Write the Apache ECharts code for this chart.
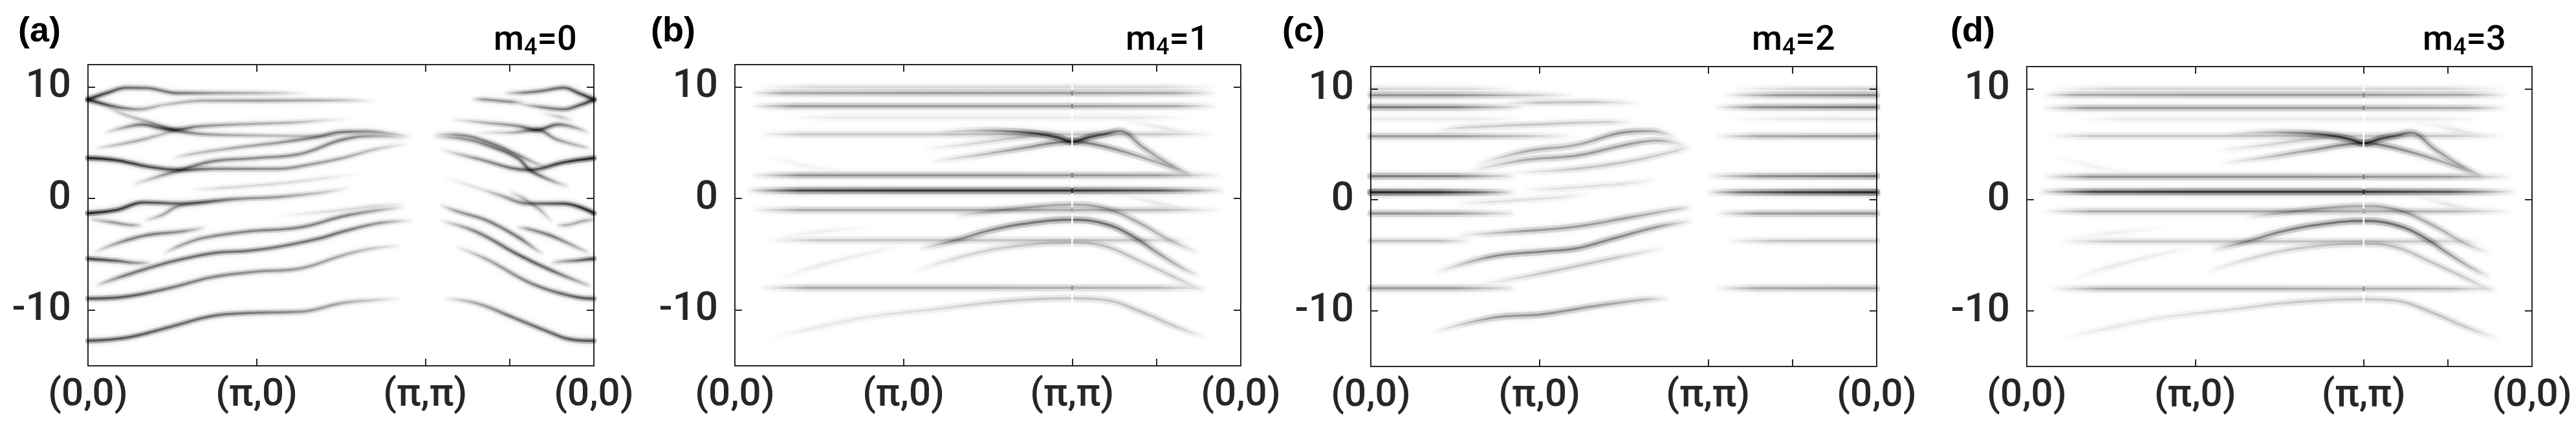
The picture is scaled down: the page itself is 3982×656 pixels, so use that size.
<!DOCTYPE html>
<html><head><meta charset="utf-8">
<script src="https://cdn.jsdelivr.net/npm/echarts@6/dist/echarts.min.js"></script>
<style>html,body{margin:0;padding:0;background:#fff}#c{width:3982px;height:656px}</style>
</head><body><div id="c"></div>
<script>
// ---- axis / label data ----
const xTickValues = [0, 1, 2, 3];
const xTickLabels = ['(0,0)', '(π,0)', '(π,π)', '(0,0)'];
const xInnerTicks = [1, 2, 2.5];
const yTickValues = [-10, 0, 10];
const panelLetters = ['(a)', '(b)', '(c)', '(d)'];
const m4Values = [0, 1, 2, 3];

// ---- bands: each point is [k-path position, energy, intensity] ----
const bandsA = [
  [[0,8.87,0.9],[0.12,9.5,0.7],[0.23,9.93,0.55],[0.35,9.9,0.5],[0.53,9.45,0.5],[0.74,9.45,0.35],[1.0,9.45,0.25],[1.13,9.45,0.15],[1.3,9.43,0]],
  [[0,8.87,0.85],[0.17,8.2,0.55],[0.3,8.0,0.35],[0.45,8.4,0.2],[0.69,8.77,0.3],[1.0,8.77,0.35],[1.3,8.8,0.3],[1.5,8.8,0.2],[1.7,8.75,0]],
  [[0.1,5.9,0],[0.2,6.3,0.25],[0.32,6.63,0.5],[0.42,6.35,0.55],[0.51,6.15,0.7],[0.65,6.45,0.4],[0.9,6.65,0.3],[1.2,6.8,0.25],[1.4,7.0,0.1],[1.55,7.1,0]],
  [[0.1,8.3,0],[0.22,7.5,0.2],[0.35,6.9,0.25],[0.51,6.15,0.5],[0.7,5.75,0.35],[1.0,5.65,0.25],[1.3,5.6,0.2],[1.5,5.6,0]],
  [[0.04,4.5,0],[0.15,4.75,0.2],[0.3,5.2,0.3],[0.45,5.8,0.2],[0.55,6.2,0]],
  [[0,3.63,1.0],[0.17,3.43,0.85],[0.36,2.85,0.7],[0.55,2.56,0.65],[0.74,2.66,0.45],[1.13,2.66,0.4],[1.3,3.0,0.35],[1.51,3.63,0.3],[1.7,4.4,0.2],[1.9,4.9,0]],
  [[0.26,1.2,0],[0.4,1.9,0.25],[0.55,2.56,0.5],[0.74,3.34,0.45],[1.0,3.63,0.4],[1.26,4.0,0.4],[1.51,5.28,0.45],[1.7,5.6,0.3],[1.88,5.4,0]],
  [[0.5,3.6,0],[0.62,4.0,0.2],[0.9,4.6,0.3],[1.13,5.0,0.35],[1.35,5.5,0.45],[1.51,5.96,0.5],[1.65,6.0,0.4],[1.8,5.8,0.2],[1.92,5.5,0]],
  [[0.6,0.8,0],[0.8,0.95,0.12],[1.1,1.3,0.12],[1.4,1.8,0.08],[1.6,2.2,0]],
  [[0,-1.32,1.0],[0.17,-1.03,0.85],[0.33,-0.35,0.7],[0.55,-0.45,0.55],[0.87,-0.06,0.4],[1.13,0.14,0.35],[1.38,0.52,0.2],[1.55,0.95,0]],
  [[0.33,-2.0,0],[0.45,-1.4,0.3],[0.53,-0.7,0.35],[0.7,-0.3,0.25],[0.9,0.1,0]],
  [[0.03,-1.9,0.1],[0.15,-2.15,0.35],[0.26,-2.39,0.3],[0.32,-2.4,0]],
  [[0.04,-4.8,0],[0.12,-4.3,0.2],[0.23,-3.74,0.45],[0.36,-3.26,0.5],[0.55,-2.97,0.4],[0.7,-2.6,0]],
  [[0.45,-4.9,0],[0.55,-4.2,0.3],[0.68,-3.55,0.4],[0.94,-2.97,0.45],[1.26,-2.58,0.45],[1.51,-1.6,0.45],[1.7,-1.1,0.3],[1.88,-0.8,0]],
  [[0.05,-7.8,0],[0.1,-7.5,0.2],[0.23,-6.85,0.5],[0.49,-5.68,0.55],[0.74,-4.9,0.55],[0.94,-4.7,0.55],[1.13,-4.33,0.5],[1.38,-3.55,0.55],[1.51,-2.97,0.5],[1.73,-2.2,0.35],[1.92,-2.0,0]],
  [[0,-5.39,0.8],[0.17,-5.59,0.6],[0.3,-5.78,0.3],[0.37,-5.75,0]],
  [[0,-8.98,0.7],[0.23,-8.79,0.65],[0.49,-8.0,0.5],[0.74,-7.04,0.45],[1.0,-6.56,0.4],[1.26,-6.27,0.35],[1.51,-5.1,0.3],[1.67,-4.52,0.2],[1.86,-4.23,0]],
  [[0,-12.76,0.7],[0.23,-12.47,0.65],[0.49,-11.5,0.6],[0.74,-10.53,0.55],[1.0,-10.24,0.5],[1.26,-10.15,0.4],[1.51,-9.37,0.3],[1.7,-9.1,0.15],[1.86,-8.98,0]],
  [[1.1,-1.6,0],[1.4,-1.2,0.1],[1.7,-0.7,0.12],[1.9,-0.45,0]],
  [[2.11,-8.98,0],[2.3,-9.37,0.3],[2.5,-10.53,0.5],[2.69,-11.7,0.55],[2.88,-12.67,0.65],[3.0,-12.76,0.7]],
  [[2.18,-4.33,0],[2.37,-5.49,0.3],[2.63,-7.62,0.45],[2.88,-8.79,0.6],[3.0,-8.98,0.7]],
  [[2.09,-2.0,0],[2.3,-2.97,0.45],[2.56,-5.1,0.6],[2.75,-6.46,0.55],[2.94,-7.62,0.2],[2.98,-7.8,0]],
  [[2.09,-0.64,0],[2.2,-1.2,0.35],[2.37,-2.0,0.45],[2.56,-3.55,0.5],[2.67,-4.7,0.1],[2.7,-4.9,0]],
  [[2.55,-2.6,0],[2.62,-2.77,0.35],[2.75,-3.36,0.5],[2.92,-4.52,0.2],[2.97,-4.8,0]],
  [[2.75,-5.75,0],[2.79,-5.68,0.2],[2.9,-5.55,0.5],[3.0,-5.39,0.8]],
  [[2.78,-2.4,0],[2.83,-2.39,0.25],[2.94,-2.0,0.3],[3.0,-1.9,0.1]],
  [[2.35,0.7,0],[2.43,0.33,0.15],[2.62,-0.45,0.5],[2.82,-0.45,0.7],[3.0,-1.32,1.0]],
  [[2.5,0.6,0],[2.59,-0.06,0.25],[2.68,-1.0,0.25],[2.75,-2.0,0]],
  [[2.1,1.9,0],[2.3,1.0,0.1],[2.5,0.0,0.1],[2.6,-0.6,0]],
  [[2.09,4.4,0],[2.3,3.6,0.35],[2.62,2.56,0.6],[2.82,3.24,0.8],[3.0,3.63,1.0]],
  [[2.05,5.5,0],[2.2,5.4,0.3],[2.4,4.6,0.45],[2.55,3.6,0.5],[2.62,2.56,0.6],[2.75,1.6,0.3],[2.85,1.1,0]],
  [[2.05,5.75,0],[2.2,5.7,0.35],[2.4,4.9,0.45],[2.55,3.9,0.4],[2.65,3.2,0.2],[2.72,2.8,0]],
  [[2.15,7.1,0],[2.35,6.8,0.25],[2.55,6.5,0.4],[2.66,6.15,0.7],[2.79,6.63,0.5],[2.9,6.3,0.25],[2.97,5.9,0]],
  [[2.3,5.9,0],[2.5,5.9,0.2],[2.66,6.15,0.5],[2.78,5.3,0.35],[2.92,4.7,0.2],[2.98,4.5,0]],
  [[2.47,9.45,0],[2.6,9.5,0.45],[2.69,9.64,0.5],[2.82,9.93,0.55],[2.91,9.45,0.7],[3.0,8.87,0.9]],
  [[2.55,8.5,0],[2.69,8.19,0.4],[2.82,8.0,0.5],[2.92,8.4,0.65],[3.0,8.87,0.85]],
  [[2.28,8.9,0],[2.35,8.87,0.35],[2.5,8.67,0.4],[2.58,8.6,0]],
  [[2.7,7.6,0],[2.8,7.3,0.2],[2.88,7.0,0]]
];

const bandsB = [
  [[0.15,10.0,0],[0.5,10.0,0.12],[2.5,10.0,0.12],[2.85,10.0,0]],
  [[0.1,9.45,0],[0.3,9.45,0.3],[1.0,9.45,0.35],[2.0,9.45,0.35],[2.6,9.45,0.3],[2.85,9.45,0]],
  [[0.1,8.28,0],[0.35,8.28,0.35],[1.0,8.28,0.35],[2.0,8.28,0.35],[2.6,8.28,0.3],[2.85,8.28,0]],
  [[0.3,7.27,0],[0.6,7.27,0.07],[2.4,7.27,0.07],[2.7,7.27,0]],
  [[0.15,5.76,0],[0.4,5.76,0.18],[1.3,5.76,0.18],[2.5,5.76,0.18],[2.85,5.76,0]],
  [[0.1,2.08,0],[0.4,2.08,0.4],[1.5,2.08,0.4],[2.5,2.08,0.35],[2.88,2.08,0]],
  [[0.08,0.72,0],[0.4,0.72,0.75],[1.0,0.72,0.85],[2.0,0.72,0.85],[2.5,0.72,0.65],[2.9,0.72,0]],
  [[0.1,-1.03,0],[0.4,-1.03,0.3],[1.5,-1.03,0.3],[2.5,-1.03,0.25],[2.88,-1.03,0]],
  [[0.2,-3.74,0],[0.5,-3.74,0.18],[1.5,-3.74,0.2],[2.4,-3.74,0.18],[2.7,-3.74,0]],
  [[0.15,-8.0,0],[0.45,-8.0,0.3],[1.5,-8.0,0.3],[2.5,-8.0,0.25],[2.8,-8.0,0]],
  [[1.2,5.9,0],[1.45,6.1,0.2],[1.65,6.0,0.45],[1.8,5.8,0.7],[1.92,5.45,0.8],[2.0,5.1,0.85],[2.1,5.5,0.75],[2.2,5.8,0.6],[2.28,6.05,0.4],[2.42,4.6,0.35],[2.58,3.05,0.25],[2.7,2.2,0]],
  [[1.15,3.3,0],[1.45,3.9,0.2],[1.7,4.5,0.35],[2.0,5.1,0.5],[2.15,4.8,0.45],[2.35,4.0,0.35],[2.55,3.0,0.25],[2.7,2.2,0]],
  [[1.1,4.4,0],[1.4,4.9,0.12],[1.7,5.5,0.2],[1.9,5.7,0]],
  [[1.1,-4.5,0],[1.31,-3.74,0.35],[1.5,-2.9,0.45],[1.7,-2.3,0.5],[2.0,-1.9,0.55],[2.2,-2.3,0.55],[2.35,-3.3,0.5],[2.5,-4.8,0.35],[2.65,-6.2,0.2],[2.75,-6.9,0]],
  [[1.3,-1.6,0],[1.55,-1.1,0.25],[1.8,-0.7,0.3],[2.0,-0.55,0.3],[2.2,-0.9,0.3],[2.4,-2.2,0.3],[2.6,-3.9,0.2],[2.75,-4.8,0]],
  [[1.05,-6.6,0],[1.3,-5.4,0.12],[1.6,-4.4,0.18],[2.0,-3.95,0.2],[2.2,-4.3,0.22],[2.4,-5.6,0.2],[2.6,-7.0,0.18],[2.78,-8.3,0]],
  [[0.2,-12.5,0],[0.5,-11.5,0.08],[0.8,-10.6,0.08],[1.2,-9.9,0.12],[1.6,-9.2,0.18],[2.0,-8.95,0.2],[2.2,-9.1,0.2],[2.4,-10.1,0.22],[2.6,-11.4,0.18],[2.8,-12.5,0]],
  [[0.25,-7.2,0],[0.5,-6.0,0.07],[0.85,-4.7,0.05],[1.0,-4.3,0]],
  [[0.25,-3.5,0],[0.5,-3.0,0.06],[0.85,-2.5,0]],
  [[0.15,4.0,0],[0.4,3.0,0.05],[0.7,2.3,0]],
  [[2.3,7.0,0],[2.55,6.3,0.08],[2.7,5.8,0]],
  [[2.3,0.3,0],[2.5,-0.4,0.08],[2.7,-1.0,0]]
];

const bandsC = [
  [[0,10.0,0.12],[0.6,10.0,0.1],[0.85,10.0,0]],
  [[2.15,10.0,0],[2.5,10.0,0.12],[3.0,10.0,0.15]],
  [[0,9.42,0.4],[0.5,9.42,0.4],[0.9,9.42,0.2],[1.2,9.42,0]],
  [[2.1,9.42,0],[2.4,9.42,0.35],[3.0,9.42,0.45]],
  [[0,8.35,0.5],[0.5,8.35,0.45],[0.8,8.35,0.15],[0.9,8.35,0]],
  [[2.05,8.35,0],[2.3,8.35,0.4],[3.0,8.35,0.55]],
  [[0.8,8.7,0],[1.0,8.75,0.2],[1.3,8.8,0.2],[1.6,8.7,0]],
  [[0,7.28,0.07],[0.6,7.28,0.07],[0.9,7.28,0]],
  [[2.1,7.28,0],[2.5,7.28,0.07],[3.0,7.28,0.09]],
  [[0.4,6.3,0],[0.55,6.5,0.15],[1.0,6.8,0.2],[1.4,7.0,0.15],[1.55,7.0,0]],
  [[0,5.73,0.35],[0.5,5.73,0.35],[0.9,5.73,0.2],[1.2,5.73,0]],
  [[2.05,5.73,0],[2.3,5.73,0.3],[3.0,5.73,0.35]],
  [[0,2.14,0.5],[0.5,2.14,0.45],[0.8,2.14,0.1],[0.85,2.14,0]],
  [[2.0,2.14,0],[2.3,2.14,0.4],[3.0,2.14,0.55]],
  [[0,0.68,1.0],[0.4,0.68,0.9],[0.65,0.68,0.5],[0.85,0.68,0]],
  [[2.0,0.68,0],[2.2,0.68,0.5],[2.5,0.68,0.8],[3.0,0.68,1.0]],
  [[0,-1.22,0.4],[0.5,-1.22,0.35],[0.8,-1.22,0.1],[0.85,-1.22,0]],
  [[2.05,-1.22,0],[2.3,-1.22,0.35],[3.0,-1.22,0.4]],
  [[0,-3.69,0.22],[0.4,-3.69,0.22],[0.6,-3.69,0]],
  [[2.1,-3.69,0],[2.4,-3.69,0.2],[3.0,-3.69,0.22]],
  [[0,-7.96,0.35],[0.5,-7.96,0.35],[0.8,-7.96,0.1],[0.85,-7.96,0]],
  [[2.05,-7.96,0],[2.3,-7.96,0.3],[3.0,-7.96,0.35]],
  [[0.63,3.2,0],[0.92,4.37,0.3],[1.22,4.95,0.3],[1.51,6.1,0.4],[1.66,6.2,0.3],[1.8,5.7,0]],
  [[0.59,2.6,0],[0.92,3.6,0.3],[1.22,3.98,0.35],[1.51,4.95,0.35],[1.7,5.34,0.3],[1.86,4.95,0]],
  [[0.82,2.4,0],[1.22,2.8,0.2],[1.51,3.4,0.2],[1.8,4.37,0.15],[1.9,4.76,0]],
  [[0.9,0.9,0],[1.1,1.0,0.1],[1.5,1.45,0.1],[1.7,1.8,0]],
  [[0.5,-0.3,0],[0.7,-0.2,0.1],[1.1,0.2,0.1],[1.3,0.5,0]],
  [[0.51,-3.2,0],[0.92,-2.8,0.35],[1.22,-2.4,0.35],[1.51,-1.65,0.35],[1.8,-0.87,0.2],[1.9,-0.68,0]],
  [[0.39,-6.5,0],[0.72,-5.1,0.4],[1.02,-4.66,0.45],[1.22,-4.37,0.45],[1.41,-3.6,0.45],[1.7,-2.43,0.35],[1.9,-1.94,0]],
  [[0.63,-7.67,0],[1.02,-6.6,0.2],[1.41,-5.34,0.2],[1.76,-4.27,0]],
  [[0.37,-11.9,0],[0.73,-10.6,0.35],[1.02,-10.3,0.4],[1.31,-9.6,0.35],[1.61,-9.0,0.25],[1.76,-8.9,0]]
];

// panel (d) reads the same as panel (b)
const bandsD = bandsB;
const allBands = [bandsA, bandsB, bandsC, bandsD];

// white gap along (π,π) in panels (b),(d) and the dark spots where flat bands cross it: [energy, intensity]
const piGapRange = [-9.7, 10.2];
const piDotsBD = [[9.45,0.55],[8.28,0.55],[2.08,0.6],[0.72,1.0],[-1.03,0.4],[-8.0,0.5]];

// ---- layout (pixels) ----
const grids = [
  {left:136, top:100, width:782, height:466},
  {left:1136, top:100, width:782, height:466},
  {left:2119, top:103, width:782, height:464},
  {left:3133, top:103, width:781, height:464}
];
const letterX = [28, 1006, 1982, 3015];
const m4X = [763, 1740, 2708, 3745];
const outerW = [9, 11, 11, 11];
const innerW = [3.5, 3.5, 3.5, 3.5];
const hasPiGap = [false, true, false, true];

const INK = '#262626';
const FONT = 'Roboto, "Liberation Sans", Arial, sans-serif';

function gradient(band, k) {
  const u0 = band[0][0], u1 = band[band.length - 1][0];
  return {type: 'linear', x: 0, y: 0, x2: 1, y2: 0,
    colorStops: band.map(p => ({offset: (p[0] - u0) / (u1 - u0),
      color: 'rgba(0,0,0,' + Math.min(1, p[2] * k).toFixed(3) + ')'}))};
}

const xAxes = [], yAxes = [], series = [];
grids.forEach((g, i) => {
  const common = {
    gridIndex: i, type: 'value', min: 0, max: 3,
    axisLine: {show: true, onZero: false, lineStyle: {color: INK, width: 2}},
    axisTick: {show: true, inside: true, length: 11, customValues: xInnerTicks, lineStyle: {color: INK, width: 2}},
    splitLine: {show: false}
  };
  xAxes.push(Object.assign({}, common, {position: 'bottom',
    axisLabel: {show: true, customValues: xTickValues, margin: 16, fontSize: 60, fontWeight: 500, color: INK, fontFamily: FONT,
      formatter: v => { const k = xTickValues.indexOf(v); return k >= 0 ? xTickLabels[k] : ''; }}}));
  xAxes.push(Object.assign({}, common, {position: 'top', axisLabel: {show: false}}));
  const ycommon = {
    gridIndex: i, type: 'value', min: -15, max: 12,
    axisLine: {show: true, onZero: false, lineStyle: {color: INK, width: 2}},
    axisTick: {show: true, inside: true, length: 11, customValues: yTickValues, lineStyle: {color: INK, width: 2}},
    splitLine: {show: false}
  };
  yAxes.push(Object.assign({}, ycommon, {position: 'left',
    axisLabel: {show: true, customValues: yTickValues, margin: 26, fontSize: 62, fontWeight: 500, color: INK, fontFamily: FONT}}));
  yAxes.push(Object.assign({}, ycommon, {position: 'right', axisLabel: {show: false}}));

  allBands[i].forEach(band => {
    const data = band.map(p => [p[0], p[1]]);
    const base = {type: 'line', xAxisIndex: i * 2, yAxisIndex: i * 2, data: data,
      smooth: 0.4, symbol: 'none', showSymbol: false, silent: true, animation: false};
    series.push(Object.assign({}, base, {z: 1,
      lineStyle: {width: outerW[i], cap: 'round', color: gradient(band, 0.32),
        shadowBlur: 7, shadowColor: 'rgba(0,0,0,0.7)'}}));
    series.push(Object.assign({}, base, {z: 2,
      lineStyle: {width: innerW[i], cap: 'round', color: gradient(band, 0.72)}}));
  });

  if (hasPiGap[i]) {
    series.push({
      type: 'line', xAxisIndex: i * 2, yAxisIndex: i * 2,
      data: [[2, piGapRange[0]], [2, piGapRange[1]]],
      symbol: 'none', silent: true, animation: false, z: 3,
      lineStyle: {width: 2.5, color: '#fff'}
    });
    series.push({
      type: 'scatter', xAxisIndex: i * 2, yAxisIndex: i * 2,
      data: piDotsBD.map(d => ({value: [2, d[0]], itemStyle: {color: 'rgba(0,0,0,' + d[1] + ')'}})),
      symbol: 'rect', symbolSize: [3, 8], silent: true, animation: false, z: 4
    });
  }
});

const graphic = [];
panelLetters.forEach((t, i) => {
  graphic.push({type: 'text', left: letterX[i], top: 22,
    style: {text: t, font: 'bold 54px "Liberation Sans", Arial, sans-serif', fill: '#000'}});
});
m4Values.forEach((v, i) => {
  graphic.push({type: 'text', left: m4X[i], top: 36,
    style: {text: '{m|m}{s|4}{m|=' + v + '}', fill: '#000',
      rich: {
        m: {fontSize: 54, fontWeight: 500, fontFamily: FONT, lineHeight: 60, verticalAlign: 'middle', fill: '#000'},
        s: {fontSize: 36, fontWeight: 500, fontFamily: FONT, lineHeight: 36, verticalAlign: 'bottom', fill: '#000'}
      }}});
});

const chart = echarts.init(document.getElementById('c'), null, {renderer: 'canvas'});
chart.setOption({
  backgroundColor: '#fff',
  animation: false,
  grid: grids,
  xAxis: xAxes,
  yAxis: yAxes,
  series: series,
  graphic: graphic
});
</script>
</body></html>
